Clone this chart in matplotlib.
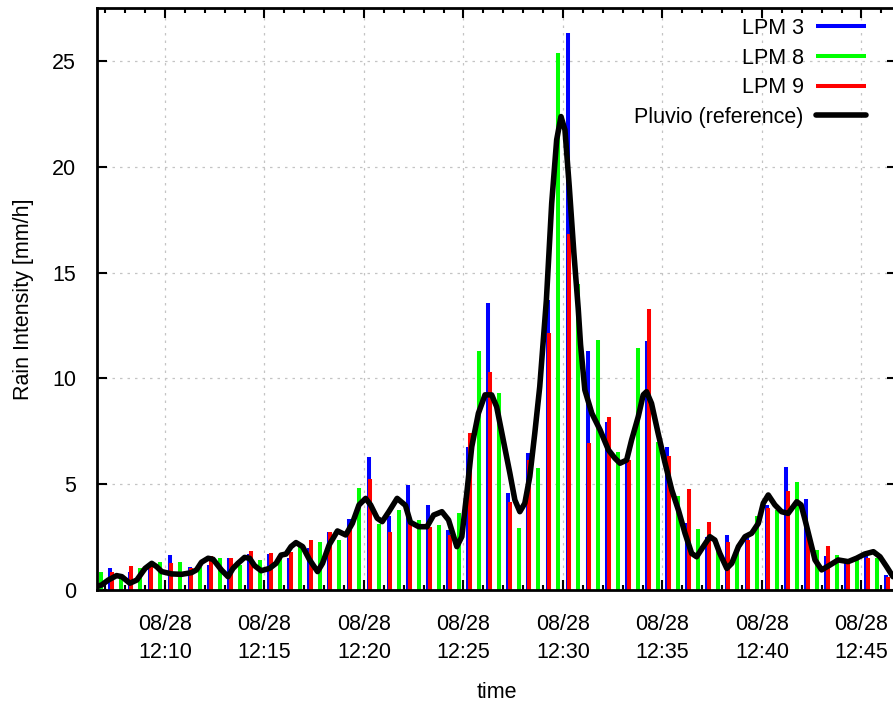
import matplotlib
matplotlib.use("Agg")
import matplotlib.pyplot as plt
import matplotlib.dates as mdates
import pandas as pd

plt.rcParams['font.family'] = ['Liberation Sans', 'DejaVu Sans']

day = "2012-08-28 "

# LPM disdrometers, one value per minute (12:07 .. 12:46 for LPM 3/9, 12:06 .. 12:45 for LPM 8)
lpm3 = [1.02, 0.87, 0.98, 1.65, 1.10, 1.18, 1.50, 1.70, 1.69, 1.50,
        1.97, 2.74, 3.34, 6.27, 3.50, 4.98, 4.03, 2.84, 6.75, 13.55,
        4.60, 6.49, 13.70, 26.34, 11.31, 7.92, 6.25, 11.78, 6.74, 3.15,
        2.50, 2.60, 2.44, 4.02, 5.83, 4.29, 1.61, 1.34, 1.65, 0.71]
lpm9 = [0.87, 1.15, 1.13, 1.26, 1.02, 1.61, 1.53, 1.86, 1.73, 1.80,
        2.36, 2.76, 2.82, 5.23, 2.73, 3.30, 2.98, 2.60, 7.40, 10.32,
        4.17, 6.14, 12.13, 16.81, 6.93, 8.16, 6.14, 13.27, 6.32, 4.76,
        3.23, 2.28, 2.36, 3.86, 4.68, 2.68, 2.09, 1.26, 1.50, 0.63]
lpm8 = [0.87, 0.72, 1.05, 1.34, 1.30, 1.10, 1.50, 1.18, 1.42, 1.60,
        2.20, 2.25, 2.36, 4.80, 3.12, 3.78, 3.31, 3.07, 3.62, 11.30,
        9.30, 2.95, 5.75, 25.39, 14.46, 11.80, 6.52, 11.42, 6.97, 4.45,
        2.87, 1.85, 1.97, 3.50, 3.78, 5.09, 1.89, 1.65, 1.42, 1.50]

lpm_start = "12:07:00"
lpm8_start = "12:06:00"

# Pluvio reference
pluvio_time = ["12:06:34", "12:06:49", "12:07:09", "12:07:34", "12:07:50", "12:08:14",
               "12:08:35", "12:09:00", "12:09:20", "12:09:35", "12:09:50", "12:10:20",
               "12:10:50", "12:11:20", "12:11:35", "12:11:50", "12:12:10", "12:12:25",
               "12:12:50", "12:13:10", "12:13:25", "12:13:40", "12:14:00", "12:14:15",
               "12:14:30", "12:14:50", "12:15:15", "12:15:35", "12:15:50", "12:16:05",
               "12:16:20", "12:16:35", "12:16:55", "12:17:15", "12:17:40", "12:17:55",
               "12:18:15", "12:18:40", "12:19:05", "12:19:25", "12:19:45", "12:20:05",
               "12:20:20", "12:20:40", "12:20:55", "12:21:15", "12:21:40", "12:22:05",
               "12:22:20", "12:22:45", "12:23:10", "12:23:30", "12:23:55", "12:24:15",
               "12:24:40", "12:24:55", "12:25:10", "12:25:25", "12:25:45", "12:26:05",
               "12:26:25", "12:26:40", "12:27:00", "12:27:20", "12:27:35", "12:27:50",
               "12:28:05", "12:28:20", "12:28:35", "12:28:50", "12:29:10", "12:29:26",
               "12:29:41", "12:29:54", "12:30:06", "12:30:19", "12:30:33", "12:30:46",
               "12:30:53", "12:31:06", "12:31:27", "12:31:52", "12:32:17", "12:32:37",
               "12:32:52", "12:33:12", "12:33:27", "12:33:47", "12:34:02", "12:34:12",
               "12:34:27", "12:34:47", "12:35:08", "12:35:28", "12:35:48", "12:36:08",
               "12:36:28", "12:36:43", "12:37:03", "12:37:23", "12:37:38", "12:37:53",
               "12:38:14", "12:38:29", "12:38:49", "12:39:09", "12:39:29", "12:39:49",
               "12:40:04", "12:40:19", "12:40:39", "12:40:59", "12:41:19", "12:41:45",
               "12:41:58", "12:42:10", "12:42:25", "12:42:40", "12:43:00", "12:43:25",
               "12:43:50", "12:44:20", "12:44:45", "12:45:10", "12:45:36", "12:45:56",
               "12:46:16", "12:46:35"]
pluvio = [0.16, 0.24, 0.47, 0.68, 0.63, 0.32,
          0.47, 1.02, 1.26, 1.10, 0.87, 0.76,
          0.74, 0.82, 0.95, 1.31, 1.50, 1.45,
          0.95, 0.63, 1.02, 1.26, 1.54, 1.50,
          1.15, 0.91, 1.02, 1.26, 1.65, 1.70,
          2.05, 2.24, 2.05, 1.45, 0.87, 1.26,
          2.13, 2.79, 2.60, 3.15, 4.02, 4.33,
          4.02, 3.39, 3.23, 3.70, 4.33, 4.00,
          3.20, 2.99, 2.99, 3.54, 3.70, 3.31,
          2.05, 2.52, 4.57, 6.77, 8.35, 9.22,
          9.22, 8.66, 7.09, 5.51, 4.25, 3.70,
          4.10, 5.36, 7.40, 9.61, 13.70, 18.27,
          21.27, 22.37, 21.74, 19.06, 15.91, 13.30,
          11.60, 9.45, 8.35, 7.56, 6.62, 6.22,
          5.99, 6.14, 7.09, 8.19, 9.22, 9.37,
          8.82, 7.40, 5.99, 4.73, 3.78, 2.68,
          1.73, 1.57, 2.05, 2.52, 2.36, 1.73,
          1.02, 1.26, 2.05, 2.52, 2.68, 3.15,
          4.10, 4.49, 4.02, 3.70, 3.62, 4.17,
          4.02, 3.31, 2.36, 1.42, 0.95, 1.18,
          1.42, 1.34, 1.50, 1.70, 1.81, 1.57,
          1.10, 0.63]

minutes = pd.date_range(day + lpm_start, periods=len(lpm3), freq="1min")
t3 = minutes + pd.Timedelta(seconds=14)
t9 = minutes + pd.Timedelta(seconds=19)
t8 = pd.date_range(day + lpm8_start, periods=len(lpm8), freq="1min") + pd.Timedelta(seconds=46)
tp = pd.to_datetime([day + s for s in pluvio_time])

fig = plt.figure(figsize=(8.93, 7.06), dpi=100)
ax = fig.add_axes([97 / 893, 116 / 706, 799.6 / 893, 582 / 706])

ax.vlines(t3, 0, lpm3, colors="#0000ff", lw=2.9, label="LPM 3")
ax.vlines(t8, 0, lpm8, colors="#00ff00", lw=2.9, label="LPM 8")
ax.vlines(t9, 0, lpm9, colors="#ff0000", lw=2.9, label="LPM 9")
ax.plot(tp, pluvio, color="black", lw=4.0, solid_joinstyle="round",
        solid_capstyle="round", label="Pluvio (reference)")

ax.set_xlim(pd.Timestamp(day + "12:06:35"), pd.Timestamp(day + "12:46:46"))
ax.set_ylim(0, 27.5)
ax.set_yticks([0, 5, 10, 15, 20, 25])

ax.xaxis.set_major_locator(mdates.MinuteLocator(byminute=range(0, 60, 5)))
ax.xaxis.set_minor_locator(mdates.MinuteLocator())
ax.xaxis.set_major_formatter(mdates.DateFormatter("%m/%d\n%H:%M"))

ax.tick_params(which="both", direction="in", top=True, right=True, labelsize=15.5)
ax.tick_params(which="major", length=7, width=1.5)
ax.tick_params(which="minor", length=3.5, width=1.5)
ax.tick_params(axis="x", pad=17)
ax.tick_params(axis="y", pad=15)
for lab in ax.get_xticklabels():
    lab.set_linespacing(1.45)
for s in ax.spines.values():
    s.set_linewidth(2)

ax.set_axisbelow(True)
ax.grid(True, which="major", color="#c4c4c4", lw=0.9, linestyle=(0, (2, 4)))

ax.set_xlabel("time", fontsize=15.5, labelpad=14)
ax.set_ylabel("Rain Intensity [mm/h]", fontsize=15.5, labelpad=13)

ax.legend(loc="upper right", bbox_to_anchor=(866 / 893, 1 - 18 / 706),
          bbox_transform=fig.transFigure, frameon=False, markerfirst=False,
          fontsize=15.5, handlelength=2.3, handletextpad=0.6, labelspacing=0.4,
          borderpad=0, borderaxespad=0)

fig.savefig("out.png", dpi=100)
